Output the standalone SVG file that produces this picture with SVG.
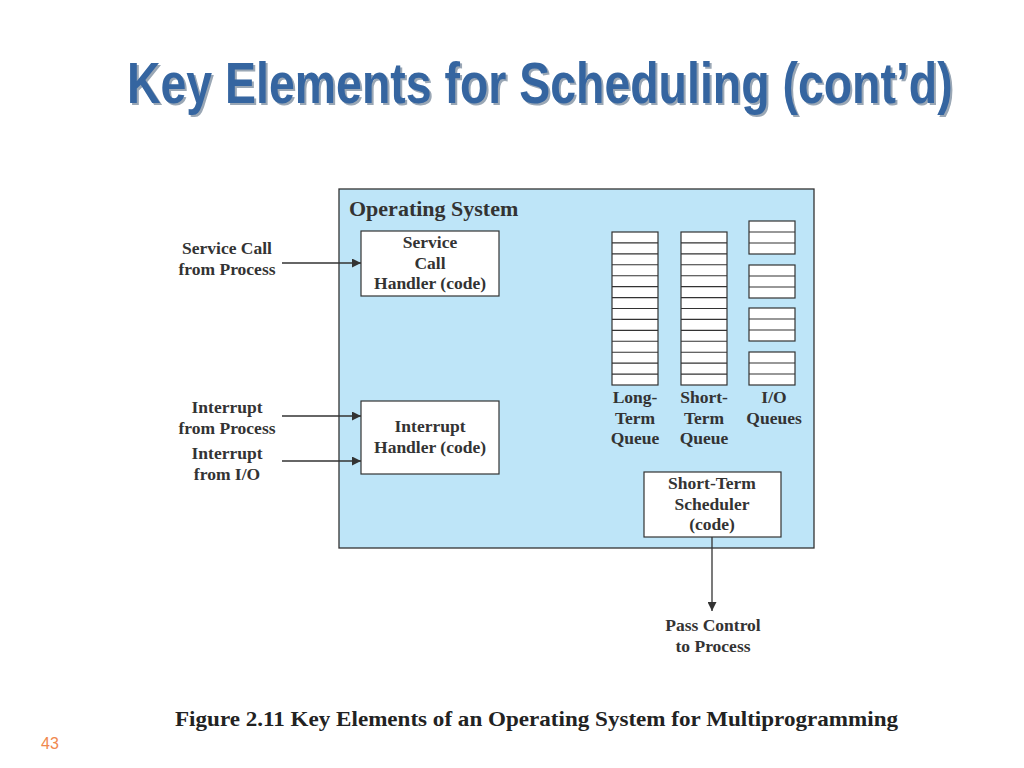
<svg xmlns="http://www.w3.org/2000/svg" width="1024" height="768" viewBox="0 0 1024 768">
<defs>
<style>
.t{font-family:"Liberation Serif","Times New Roman",serif;font-weight:bold;font-size:17.5px;fill:#333;text-anchor:middle}
.box{fill:#fff;stroke:#333;stroke-width:1.2}
.q{fill:#fff;stroke:#333;stroke-width:1.2}
.ql{stroke:#333;stroke-width:1.1}
.conn{stroke:#333;stroke-width:1.3;fill:none}
</style>
<marker id="ah" viewBox="0 0 10 10" refX="10" refY="5" markerWidth="9" markerHeight="9" markerUnits="userSpaceOnUse" orient="auto">
<path d="M0,0 L10,5 L0,10 z" fill="#333"/>
</marker>
</defs>
<rect width="1024" height="768" fill="#fff"/>
<g id="title" font-family="Liberation Sans,Arial,sans-serif" font-weight="bold" font-size="57">
<text transform="translate(129,105) scale(0.73,1)" x="0" y="0" fill="#9aa7b5" textLength="1131" lengthAdjust="spacingAndGlyphs">Key Elements for Scheduling (cont’d)</text>
<text transform="translate(127,103) scale(0.73,1)" x="0" y="0" fill="#3565a0" textLength="1131" lengthAdjust="spacingAndGlyphs">Key Elements for Scheduling (cont’d)</text>
</g>
<g id="os">
<rect x="339" y="189" width="475" height="359" fill="#bee5f8" stroke="#333" stroke-width="1.3"/>
<text x="349" y="216" font-family="Liberation Serif,serif" font-weight="bold" font-size="22" fill="#333">Operating System</text>
</g>
<g id="service-handler">
<rect class="box" x="361" y="231" width="138" height="65"/>
<text class="t" x="430" y="248">Service</text>
<text class="t" x="430" y="269">Call</text>
<text class="t" x="430" y="289">Handler (code)</text>
</g>
<g id="interrupt-handler">
<rect class="box" x="361" y="401" width="138" height="73"/>
<text class="t" x="430" y="432">Interrupt</text>
<text class="t" x="430" y="453">Handler (code)</text>
</g>
<g id="long-term-queue">
<rect class="q" x="612" y="232" width="46" height="153"/>
<path class="ql" d="M612,242.9H658M612,253.9H658M612,264.8H658M612,275.7H658M612,286.6H658M612,297.6H658M612,308.5H658M612,319.4H658M612,330.4H658M612,341.3H658M612,352.2H658M612,363.1H658M612,374.1H658"/>
<text class="t" x="635" y="403">Long-</text>
<text class="t" x="635" y="424">Term</text>
<text class="t" x="635" y="444">Queue</text>
</g>
<g id="short-term-queue">
<rect class="q" x="681" y="232" width="46" height="153"/>
<path class="ql" d="M681,242.9H727M681,253.9H727M681,264.8H727M681,275.7H727M681,286.6H727M681,297.6H727M681,308.5H727M681,319.4H727M681,330.4H727M681,341.3H727M681,352.2H727M681,363.1H727M681,374.1H727"/>
<text class="t" x="704" y="403">Short-</text>
<text class="t" x="704" y="424">Term</text>
<text class="t" x="704" y="444">Queue</text>
</g>
<g id="io-queues">
<rect class="q" x="749" y="221" width="46" height="33"/>
<line class="ql" x1="749" y1="232" x2="795" y2="232"/><line class="ql" x1="749" y1="243" x2="795" y2="243"/>
<rect class="q" x="749" y="265" width="46" height="33"/>
<line class="ql" x1="749" y1="276" x2="795" y2="276"/><line class="ql" x1="749" y1="287" x2="795" y2="287"/>
<rect class="q" x="749" y="308" width="46" height="33"/>
<line class="ql" x1="749" y1="319" x2="795" y2="319"/><line class="ql" x1="749" y1="330" x2="795" y2="330"/>
<rect class="q" x="749" y="352" width="46" height="33"/>
<line class="ql" x1="749" y1="363" x2="795" y2="363"/><line class="ql" x1="749" y1="374" x2="795" y2="374"/>
<text class="t" x="774" y="403">I/O</text>
<text class="t" x="774" y="424">Queues</text>
</g>
<g id="scheduler">
<rect class="box" x="644" y="472" width="137" height="65"/>
<text class="t" x="712" y="489">Short-Term</text>
<text class="t" x="712" y="510">Scheduler</text>
<text class="t" x="712" y="530">(code)</text>
</g>
<g id="labels">
<text class="t" x="227" y="254">Service Call</text>
<text class="t" x="227" y="275">from Process</text>
<text class="t" x="227" y="413">Interrupt</text>
<text class="t" x="227" y="434">from Process</text>
<text class="t" x="227" y="459">Interrupt</text>
<text class="t" x="227" y="480">from I/O</text>
<text class="t" x="713" y="631">Pass Control</text>
<text class="t" x="713" y="652">to Process</text>
</g>
<g id="connectors">
<line class="conn" x1="282" y1="263" x2="361" y2="263" marker-end="url(#ah)"/>
<line class="conn" x1="282" y1="416" x2="361" y2="416" marker-end="url(#ah)"/>
<line class="conn" x1="282" y1="461" x2="361" y2="461" marker-end="url(#ah)"/>
<line class="conn" x1="712" y1="537" x2="712" y2="611" marker-end="url(#ah)"/>
</g>
<g id="caption">
<text x="175" y="726" font-family="Liberation Serif,serif" font-weight="bold" font-size="21" fill="#222" textLength="723" lengthAdjust="spacingAndGlyphs">Figure 2.11  Key Elements of an Operating System for Multiprogramming</text>
<text x="41" y="749" font-family="Liberation Sans,Arial,sans-serif" font-size="16" fill="#f0884e">43</text>
</g>
</svg>
